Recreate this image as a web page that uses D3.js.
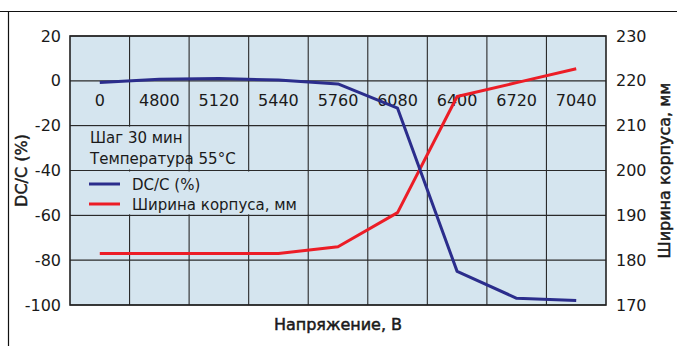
<!DOCTYPE html>
<html><head><meta charset="utf-8">
<script src="https://cdn.jsdelivr.net/npm/d3@7"></script>
<style>body{margin:0;background:#fff}svg{display:block}text{font-family:"DejaVu Sans",sans-serif;fill:#1a1a1a}</style>
</head><body>
<script>
const categories = ["0","4800","5120","5440","5760","6080","6400","6720","7040"];
const dcValues = [-0.7, 0.7, 1, 0.4, -1.4, -12.2, -85, -97, -98];
const widthValues = [181.5, 181.5, 181.5, 181.5, 183, 190.6, 216.5, 219.6, 222.7];
const leftTicks = [20, 0, -20, -40, -60, -80, -100];
const rightTicks = [230, 220, 210, 200, 190, 180, 170];
const legendNotes = ["Шаг 30 мин", "Температура 55°C"];
const seriesNames = ["DC/C (%)", "Ширина корпуса, мм"];

const W = 677, H = 346;
const m = {left: 70, right: 606, top: 36, bottom: 305};
const svg = d3.select("body").append("svg").attr("width", W).attr("height", H);

// outer frame lines
svg.append("line").attr("x1", 0).attr("x2", W).attr("y1", 11.5).attr("y2", 11.5).attr("stroke", "#111").attr("stroke-width", 1.2);
svg.append("line").attr("x1", 8.5).attr("x2", 8.5).attr("y1", 11).attr("y2", H).attr("stroke", "#111").attr("stroke-width", 1.2);

const x = d3.scaleBand().domain(categories).range([m.left, m.right]).padding(0);
const yL = d3.scaleLinear().domain([-100, 20]).range([m.bottom, m.top]);
const yR = d3.scaleLinear().domain([170, 230]).range([m.bottom, m.top]);

svg.append("rect").attr("x", m.left).attr("y", m.top).attr("width", m.right - m.left).attr("height", m.bottom - m.top).attr("fill", "#d5e5ef");

// grid
const g = svg.append("g");
categories.slice(1).forEach(c => {
  g.append("line").attr("x1", x(c)).attr("x2", x(c)).attr("y1", m.top).attr("y2", m.bottom).attr("stroke", "#2a2a2a").attr("stroke-width", 1.1);
});
leftTicks.forEach(t => {
  g.append("line").attr("x1", m.left).attr("x2", m.right).attr("y1", yL(t)).attr("y2", yL(t)).attr("stroke", "#2a2a2a").attr("stroke-width", 1.1);
});

// legend covers
svg.append("rect").attr("x", m.left + 1).attr("y", yL(-20) + 1).attr("width", 115).attr("height", yL(-40) - yL(-20) - 2).attr("fill", "#d5e5ef");
svg.append("rect").attr("x", m.left + 1).attr("y", yL(-40) + 1).attr("width", 236).attr("height", yL(-60) - yL(-40) - 2).attr("fill", "#d5e5ef");

svg.append("rect").attr("x", m.left).attr("y", m.top).attr("width", m.right - m.left).attr("height", m.bottom - m.top).attr("fill", "none").attr("stroke", "#222").attr("stroke-width", 1.6);

// category labels
categories.forEach(c => {
  svg.append("text").attr("x", x(c) + x.bandwidth() / 2).attr("y", 106).attr("text-anchor", "middle").attr("font-size", 16).text(c);
});

// axes
const fmt = d => String(d);
const axL = svg.append("g").attr("transform", `translate(${m.left},0)`).call(d3.axisLeft(yL).tickValues(leftTicks).tickFormat(fmt).tickSize(0).tickPadding(9));
axL.select(".domain").remove();
axL.selectAll("text").attr("font-size", 16).style("font-family", "DejaVu Sans").attr("fill", "#1a1a1a");
const axR = svg.append("g").attr("transform", `translate(${m.right},0)`).call(d3.axisRight(yR).tickValues(rightTicks).tickFormat(fmt).tickSize(0).tickPadding(10));
axR.select(".domain").remove();
axR.selectAll("text").attr("font-size", 16).style("font-family", "DejaVu Sans").attr("fill", "#1a1a1a");

// titles
const titleStyle = s => s.attr("text-anchor", "middle").attr("font-size", 16).attr("stroke", "#1a1a1a").attr("stroke-width", 0.5);
svg.append("text").attr("transform", `translate(27,${(m.top + m.bottom) / 2}) rotate(-90)`).call(titleStyle).text("DC/C (%)");
svg.append("text").attr("transform", `translate(670,${(m.top + m.bottom) / 2}) rotate(-90)`).call(titleStyle).text("Ширина корпуса, мм");
svg.append("text").attr("x", 338).attr("y", 330).call(titleStyle).text("Напряжение, В");

// lines
const cx = c => x(c) + x.bandwidth() / 2;
const lineL = d3.line().x((d, i) => cx(categories[i])).y(d => yL(d));
const lineR = d3.line().x((d, i) => cx(categories[i])).y(d => yR(d));
svg.append("path").attr("d", lineR(widthValues)).attr("fill", "none").attr("stroke", "#ec1d26").attr("stroke-width", 3).attr("stroke-linejoin", "round");
svg.append("path").attr("d", lineL(dcValues)).attr("fill", "none").attr("stroke", "#2b2d8c").attr("stroke-width", 3).attr("stroke-linejoin", "round");

// legend
svg.append("text").attr("x", 90).attr("y", 143).attr("font-size", 15).text(legendNotes[0]);
svg.append("text").attr("x", 90).attr("y", 164).attr("font-size", 15).text(legendNotes[1]);
const colors = ["#2b2d8c", "#ec1d26"];
seriesNames.forEach((n, i) => {
  const yy = 184 + i * 20;
  svg.append("line").attr("x1", 89).attr("x2", 120).attr("y1", yy).attr("y2", yy).attr("stroke", colors[i]).attr("stroke-width", 3);
  svg.append("text").attr("x", 132).attr("y", yy + 6).attr("font-size", 15).text(n);
});
</script>
</body></html>
